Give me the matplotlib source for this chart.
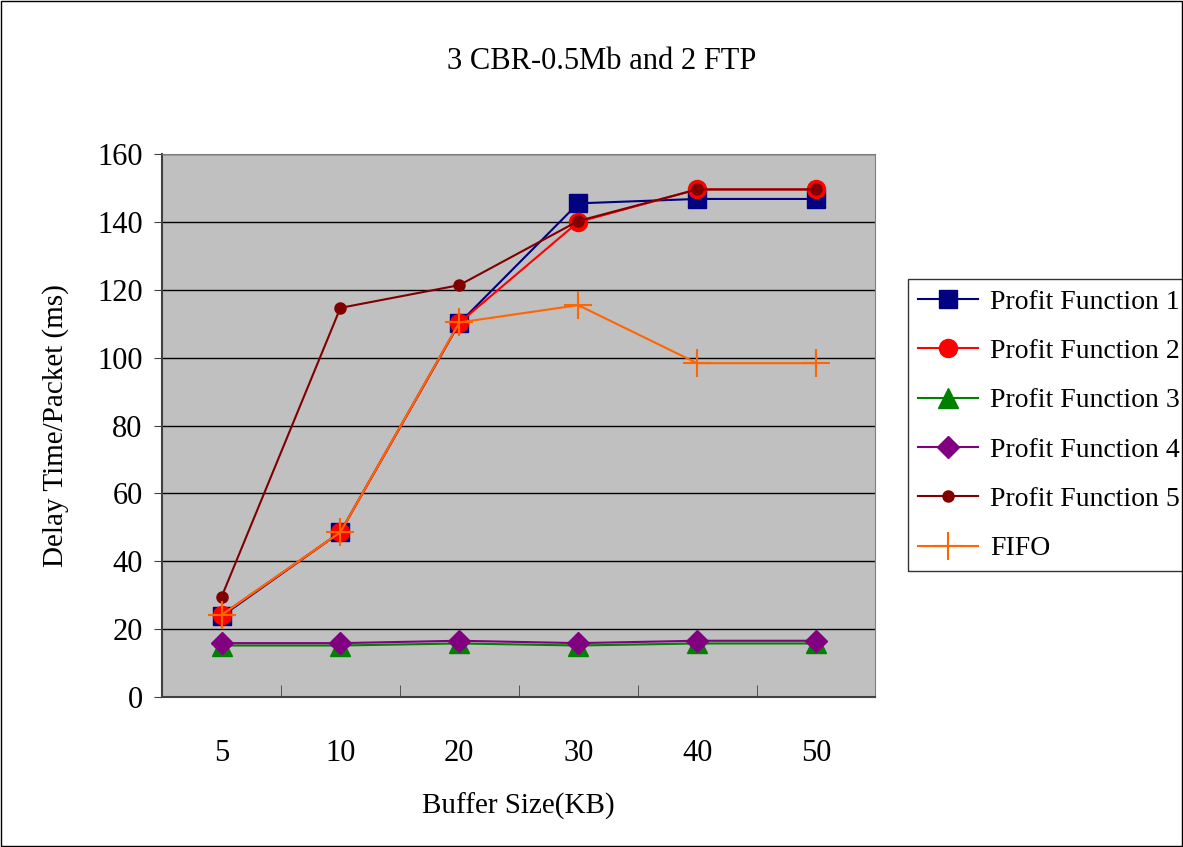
import numpy as np
import matplotlib.pyplot as plt
from matplotlib.patches import Rectangle

plt.rcParams['font.family'] = ['Liberation Serif', 'DejaVu Serif']

# data
buffer_kb = ['5', '10', '20', '30', '40', '50']
pf1 = [23.8, 48.6, 110.2, 145.5, 146.8, 146.8]
pf2 = [24.2, 48.6, 110.3, 140.0, 149.6, 149.6]
pf3 = [15.2, 15.2, 15.8, 15.2, 15.8, 15.8]
pf4 = [15.9, 15.9, 16.6, 15.9, 16.6, 16.6]
pf5 = [29.5, 114.7, 121.4, 140.3, 149.6, 149.6]
fifo = [24.2, 48.6, 110.4, 115.5, 98.4, 98.4]

fig = plt.figure(figsize=(11.83, 8.47), dpi=100)
ax = fig.add_axes([0.137, 0.177, 0.603, 0.641])
ax.set_facecolor('#c0c0c0')

x = np.arange(len(buffer_kb))
ax.plot(x, pf1, color='#000080', marker='s', ms=12.5, lw=1.5, label='Profit Function 1')
ax.plot(x, pf2, color='#ff0000', marker='o', ms=13, lw=1.5, label='Profit Function 2')
ax.plot(x, pf3, color='#008000', marker='^', ms=14, lw=1.5, label='Profit Function 3')
ax.plot(x, pf4, color='#800080', marker='D', ms=11, lw=1.5, label='Profit Function 4')
ax.plot(x, pf5, color='#800000', marker='o', ms=8, lw=1.5, label='Profit Function 5')
ax.plot(x, fifo, color='#ff6600', marker='+', ms=20, mew=1.5, lw=1.5, label='FIFO')

ax.set_xlim(-0.5, 5.5)
ax.set_ylim(0, 160)
ax.set_yticks(np.arange(0, 161, 20))
ax.set_xticks(x)
ax.set_xticklabels(buffer_kb)
ax.set_xticks(np.arange(0.5, 5, 1), minor=True)
ax.tick_params(axis='x', which='major', length=0, pad=30, labelsize=22)
ax.tick_params(axis='x', which='minor', direction='in', length=9, color='#404040')
ax.tick_params(axis='y', length=6, labelsize=22, pad=8, color='#404040')
ax.yaxis.grid(True, color='black', lw=1)
ax.set_axisbelow(True)
for s in ax.spines.values():
    s.set_color('#808080')
ax.spines['left'].set_color('#404040')
ax.spines['bottom'].set_color('#404040')
ax.spines['left'].set_linewidth(1.5)
ax.spines['bottom'].set_linewidth(1.5)

ax.set_xlabel('Buffer Size(KB)', fontsize=21, labelpad=18)
ax.set_ylabel('Delay Time/Packet (ms)', fontsize=21, labelpad=20)
fig.text(0.509, 0.927, '3 CBR-0.5Mb and 2 FTP', ha='center', va='center', fontsize=22)

leg = ax.legend(loc='center left', bbox_to_anchor=(0.756, 0.498), bbox_transform=fig.transFigure,
                fontsize=20, frameon=True, fancybox=False, edgecolor='black',
                handlelength=2.16, labelspacing=0.86, borderpad=0.36, handletextpad=0.43)
leg.get_frame().set_linewidth(1.0)

fig.patches.append(Rectangle((0.001, 0.001), 0.998, 0.998, transform=fig.transFigure,
                             fill=False, edgecolor='black', lw=1))

fig.savefig('out.png', dpi=100)
